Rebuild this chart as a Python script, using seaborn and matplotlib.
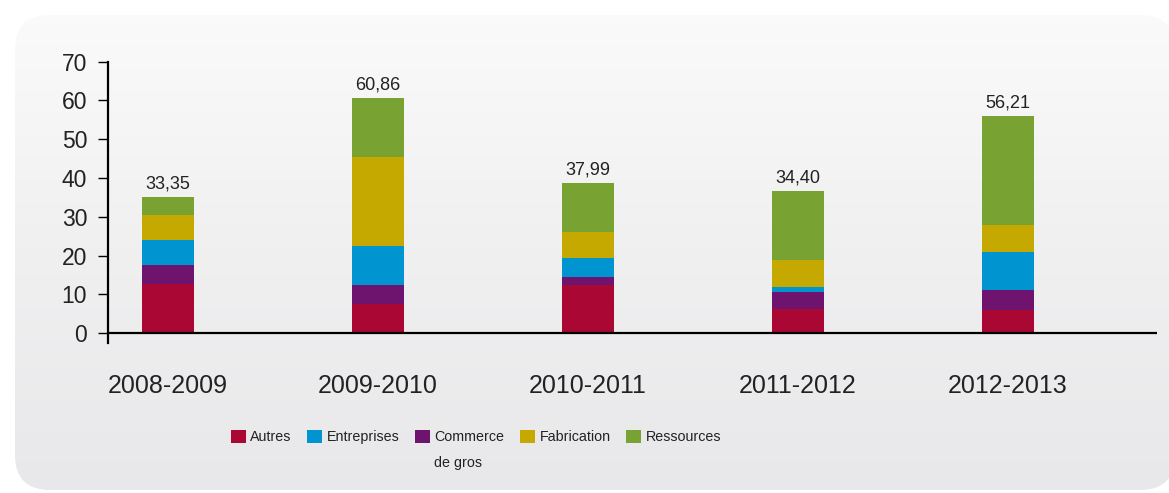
import numpy as np
import matplotlib
matplotlib.use("Agg")
import matplotlib.pyplot as plt
from matplotlib.patches import FancyBboxPatch, Patch
from matplotlib.colors import LinearSegmentedColormap
import seaborn as sns

# ---------------- data ----------------
categories = ["2008-2009", "2009-2010", "2010-2011", "2011-2012", "2012-2013"]
autres = [12.7, 7.6, 12.4, 6.3, 6.0]
commerce = [4.9, 4.9, 2.1, 4.3, 5.2]
entreprises = [6.4, 10.0, 4.9, 1.3, 9.8]
fabrication = [6.5, 22.9, 6.7, 7.0, 6.9]
ressources = [4.6, 15.2, 12.6, 17.8, 28.1]
total_labels = ["33,35", "60,86", "37,99", "34,40", "56,21"]
series_names = ["Autres", "Entreprises", "Commerce", "Fabrication", "Ressources"]
yticks = [0, 10, 20, 30, 40, 50, 60, 70]

colors = {
    "Autres": "#AA0734",
    "Commerce": "#6E146F",
    "Entreprises": "#0095D0",
    "Fabrication": "#C5A900",
    "Ressources": "#78A232",
}

sns.set_theme(style="white")
plt.rcParams["font.family"] = ["Liberation Sans", "DejaVu Sans"]
text_color = "#222222"

W, H = 1169, 493
fig = plt.figure(figsize=(W / 100, H / 100), dpi=100)
fig.patch.set_facecolor("white")

# ---------------- background panel ----------------
bg = fig.add_axes([0, 0, 1, 1], zorder=-10)
bg.set_xlim(0, W)
bg.set_ylim(H, 0)
bg.axis("off")
grad = np.linspace(0, 1, 256).reshape(-1, 1)
cmap = LinearSegmentedColormap.from_list("g", ["#fbfbfb", "#f0f0f1", "#e8e8ea"])
panel = FancyBboxPatch((15 + 35, 15 + 35), 1160 - 70, 475 - 70,
                       boxstyle="round,pad=35", transform=bg.transData,
                       facecolor="none", edgecolor="none")
bg.add_patch(panel)
im = bg.imshow(grad, extent=(0, W, H, 0), cmap=cmap, aspect="auto", origin="upper")
im.set_clip_path(panel)

# ---------------- main axes ----------------
ax_left = 108 / W
ax_right = 1157 / W
ax_bottom = 1 - 343.3 / H
ax_top = 1 - 61.7 / H
ax = fig.add_axes([ax_left, ax_bottom, ax_right - ax_left, ax_top - ax_bottom])
ax.set_facecolor("none")

order = ["Autres", "Commerce", "Entreprises", "Fabrication", "Ressources"]
vals = {"Autres": autres, "Commerce": commerce, "Entreprises": entreprises,
        "Fabrication": fabrication, "Ressources": ressources}
cums = {}
running = np.zeros(len(categories))
for name in order:
    running = running + np.array(vals[name])
    cums[name] = running.copy()

bar_w = 0.248
for name in reversed(order):
    sns.barplot(x=categories, y=cums[name], color=colors[name], saturation=1,
                width=bar_w, ax=ax, linewidth=0, zorder=2)

totals = cums["Ressources"]
for i, (t, lab) in enumerate(zip(totals, total_labels)):
    ax.annotate(lab, xy=(i, t), xytext=(0, 3), textcoords="offset points",
                ha="center", va="bottom", fontsize=13, color=text_color)

ax.set_xlim(-0.286, 4.71)
ax.set_ylim(-2.6, 70)
ax.set_yticks(yticks)
ax.set_yticklabels([str(v) for v in yticks])
ax.set_xlabel("")
ax.set_ylabel("")

for s in ["top", "right", "bottom"]:
    ax.spines[s].set_visible(False)
ax.spines["left"].set_color("black")
ax.spines["left"].set_linewidth(1.6)
ax.axhline(0, color="black", linewidth=1.6, zorder=3)

ax.tick_params(axis="y", which="major", left=True, length=7, width=1.0,
               color="black", pad=8, labelsize=16.5, labelcolor=text_color)
ax.tick_params(axis="x", length=0, pad=22, labelsize=18, labelcolor=text_color)
ax.grid(False)

# ---------------- legend ----------------
leg_size = 10.3
handles = [Patch(facecolor=colors[n], edgecolor="none") for n in series_names]
labels = ["Autres", "Entreprises", "Commerce", "Fabrication", "Ressources"]
leg = fig.legend(handles, labels, loc="center", bbox_to_anchor=(476 / W, 1 - 437 / H),
                 ncol=5, frameon=False, fontsize=leg_size, handlelength=1.05,
                 handleheight=1.05, handletextpad=0.3, columnspacing=1.1,
                 labelcolor=text_color)

fig.canvas.draw()
renderer = fig.canvas.get_renderer()
ctext = leg.get_texts()[2]
bb = ctext.get_window_extent(renderer)
fig.text(bb.x0 / W, ((bb.y0 + bb.y1) / 2 - 26) / H, "de gros", ha="left", va="center",
         fontsize=leg_size, color=text_color)

fig.savefig("out.png", dpi=100, facecolor=fig.get_facecolor())
